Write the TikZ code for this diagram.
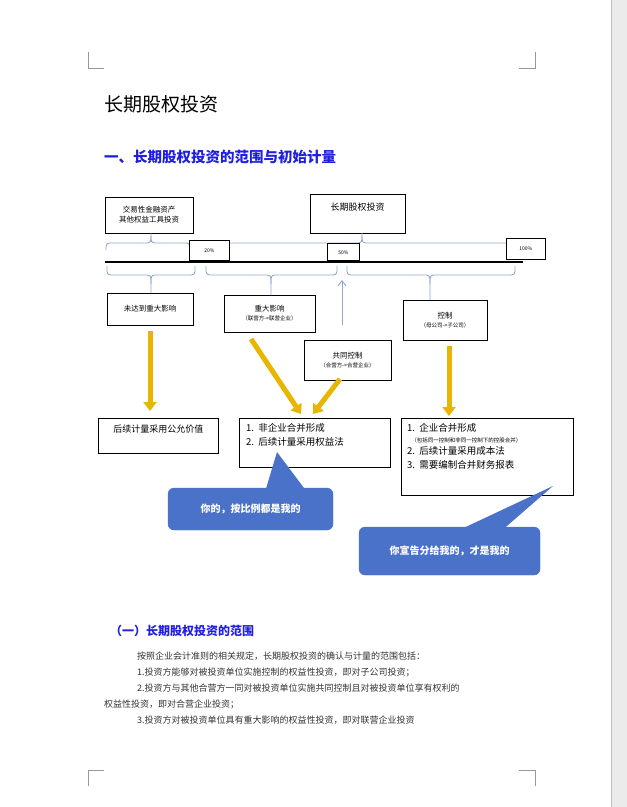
\documentclass[tikz,border=0pt]{standalone}
\usepackage{fontspec}
\setmainfont{Noto Sans CJK SC}
\usetikzlibrary{arrows.meta}
\definecolor{hblue}{HTML}{1F1FE0}
\definecolor{brc}{HTML}{8FA8CF}
\definecolor{ylw}{HTML}{E8B500}
\definecolor{cal}{HTML}{4A72C8}
\newcommand{\mybrace}[5]{% x1, x2, xmid, yend, ymain ; tip = ymain + (ymain-yend)
  \draw[brc,line width=0.9pt,rounded corners=3.5pt] (#1,#4) -- (#1,#5) -- (#3,#5) -- ($(#3,#5)!1!(#3,#4)!-1!(#3,#5)$);
  \draw[brc,line width=0.9pt,rounded corners=3.5pt] (#2,#4) -- (#2,#5) -- (#3,#5) -- ($(#3,#5)!-1!(#3,#4)$);}
\usetikzlibrary{calc}
\begin{document}
\begin{tikzpicture}[x=1pt,y=-1pt,
  bx/.style={draw=black,line width=0.7pt,fill=white,inner sep=0pt,align=center,font=\fontsize{7.5}{10}\selectfont},
  pct/.style={bx,font=\fontsize{5}{6}\selectfont,anchor=north west},
  bl/.style={draw=brc,line width=0.9pt,rounded corners=3.5pt},
  ya/.style={draw=ylw,line width=5pt,-{Triangle[length=9pt,width=13pt]}},
  callout/.style={fill=cal,draw=cal,rounded corners=6pt},
  body/.style={anchor=west,font=\fontsize{9}{10}\selectfont,text=black!80,inner sep=0pt}]
\useasboundingbox (0,0) rectangle (627,807);
\fill[white] (0,0) rectangle (627,807);
\fill[black!8] (611,0) rectangle (627,807);
\draw[black!25,line width=0.6pt] (611,0) -- (611,807);
% corner marks
\draw[black!40,line width=0.5pt] (88,52) -- (88,68) -- (104,68);
\draw[black!40,line width=0.5pt] (535,52) -- (535,68) -- (519,68);
\draw[black!40,line width=0.5pt] (88,786) -- (88,770) -- (104,770);
\draw[black!40,line width=0.5pt] (535,786) -- (535,770) -- (519,770);
% titles
\node[anchor=west,inner sep=0pt,font=\fontsize{19}{20}\selectfont] (t1) at (104,104) {长期股权投资};
\node[anchor=west,inner sep=0pt,font=\bfseries\fontsize{14.5}{16}\selectfont,text=hblue] (t2) at (104,157) {一、长期股权投资的范围与初始计量};
% top boxes
\node[bx,minimum width=88pt,minimum height=36pt] (jy) at (149,215) {交易性金融资产\\其他权益工具投资};
\node[bx,minimum width=95pt,minimum height=39pt,text depth=14pt] (cq) at (357.5,213.5) {\fontsize{9}{10}\selectfont 长期股权投资};
% braces (top)
\draw[bl] (106,250) -- (106,243) -- (151,243) -- (jy.south -| 151,0);
\draw[bl] (190,250) -- (190,243) -- (151,243) -- (151,236);
\draw[bl] (192,250) -- (192,243) -- (362,243) -- (362,233);
\draw[bl] (520,250) -- (520,243) -- (362,243) -- (362,236);
% line and percents
\draw[black,line width=2.6pt] (105,262) -- (523,262);
\node[pct,minimum width=40pt,minimum height=20pt] (p20) at (189,240) {20\%};
\node[pct,minimum width=32pt,minimum height=17pt] (p50) at (327,243) {\raisebox{-5pt}{50\%}};
\node[pct,minimum width=39pt,minimum height=21pt] (p100) at (506,238) {100\%};
% mid boxes
\node[bx,minimum width=86pt,minimum height=32pt] (wd) at (150,309) {未达到重大影响};
\node[bx,minimum width=91pt,minimum height=37pt] (zd) at (269.5,313.5) {重大影响\\[-1pt]{\fontsize{5.5}{7}\selectfont（联营方->联营企业）}};
\node[bx,minimum width=87pt,minimum height=40pt] (gt) at (347.5,360) {共同控制\\[-1pt]{\fontsize{5.5}{7}\selectfont（合营方->合营企业）}};
\node[bx,minimum width=84pt,minimum height=40pt] (kz) at (445,320) {控制\\[-1pt]{\fontsize{5.5}{7}\selectfont（母公司->子公司）}};
% braces (bottom)
\draw[bl] (107,266) -- (107,275) -- (151,275) -- (151,293);
\draw[bl] (195,266) -- (195,275) -- (151,275) -- (151,284);
\draw[bl] (206,266) -- (206,275) -- (271,275) -- (271,295);
\draw[bl] (337,266) -- (337,275) -- (271,275) -- (271,284);
\draw[bl] (347,266) -- (347,275) -- (430,275) -- (430,300);
\draw[bl] (515,266) -- (515,275) -- (430,275) -- (430,284);
\coordinate (ua) at (342,325);
\draw[brc,line width=0.9pt,-{Straight Barb[length=5pt,width=8pt]}] (ua) -- (342,280);
% bottom boxes
\node[bx,anchor=north west,minimum width=120pt,minimum height=35pt,text depth=14pt,font=\fontsize{9}{10}\selectfont] (r1) at (98,418) {后续计量采用公允价值};
\node[bx,anchor=north west,minimum width=151pt,minimum height=49pt] (r2) at (239,418) {};
\node[anchor=north west,inner sep=0pt,align=left,font=\fontsize{9.5}{14}\selectfont] at (246,423) {1.\ \ 非企业合并形成\\2.\ \ 后续计量采用权益法};
\node[bx,anchor=north west,minimum width=172pt,minimum height=77pt] (r3) at (401,418) {};
\node[anchor=north west,inner sep=0pt,align=left,font=\fontsize{9.5}{14}\selectfont] at (407,423) {1.\ \ 企业合并形成\\[-3pt]\ \ {\fontsize{5.5}{8}\selectfont（包括同一控制和非同一控制下的控股合并）}\\[-2pt]2.\ \ 后续计量采用成本法\\3.\ \ 需要编制合并财务报表};
% yellow arrows
\draw[ya] (150,331) -- (150,411);
\draw[ya] (251,339) -- (301,414);
\draw[ya] (340,379) -- (313,414);
\draw[ya] (449,346) -- (449,416);
% callouts
\fill[cal] (277,452) -- (307,492) -- (265,492) -- cycle;
\node[callout,minimum width=165pt,minimum height=42pt,text=white,font=\bfseries\fontsize{10}{11}\selectfont] (c1) at (250.5,509) {你的，按比例都是我的};
\fill[cal] (553,486) -- (500,532) -- (455,532) -- cycle;
\node[callout,minimum width=181pt,minimum height=48pt,text=white,font=\bfseries\fontsize{10}{11}\selectfont] (c2) at (449.5,551) {你宣告分给我的，才是我的};
% section text
\node[anchor=west,inner sep=0pt,font=\bfseries\fontsize{12}{13}\selectfont,text=hblue] (s1) at (110,631) {（一）长期股权投资的范围};
\node[body] (l1) at (137,656) {按照企业会计准则的相关规定，长期股权投资的确认与计量的范围包括：};
\node[body] (l2) at (137,672) {1.投资方能够对被投资单位实施控制的权益性投资，即对子公司投资；};
\node[body] (l3) at (137,688) {2.投资方与其他合营方一同对被投资单位实施共同控制且对被投资单位享有权利的};
\node[body] (l4) at (104,704) {权益性投资，即对合营企业投资；};
\node[body] (l5) at (137,720) {3.投资方对被投资单位具有重大影响的权益性投资，即对联营企业投资};
\end{tikzpicture}
\end{document}
